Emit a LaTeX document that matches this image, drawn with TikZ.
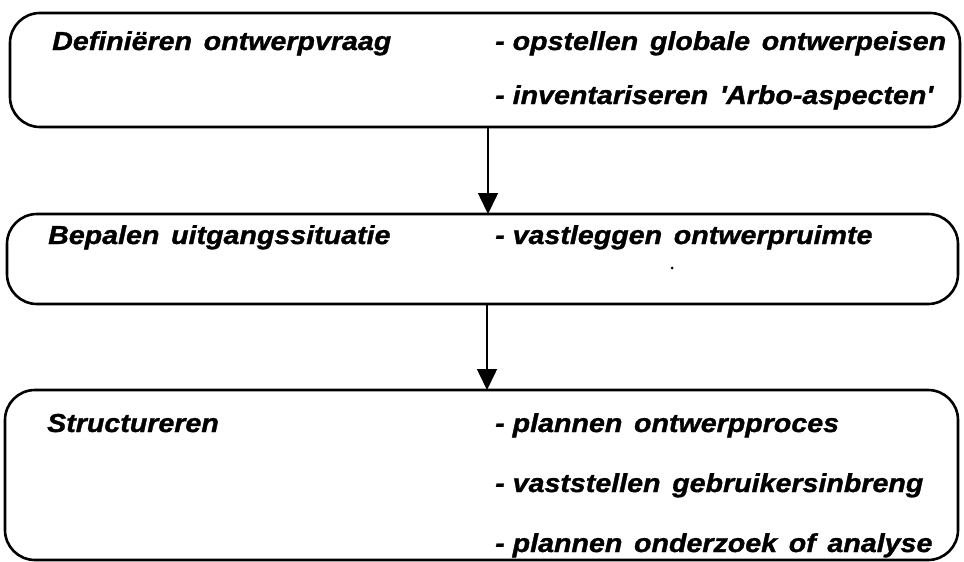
\documentclass[tikz,border=0pt]{standalone}
\usepackage{fontspec}
\setmainfont{Liberation Sans}[FakeStretch=1.1, BoldItalicFeatures={FakeBold=1.2}]
\usetikzlibrary{arrows.meta}
\newcommand{\stagefont}{\fontsize{26}{30}\selectfont\bfseries\itshape\spaceskip=0.45em plus 0.1em\relax}
\newcommand{\itm}{-\kern8pt}
\tikzset{
  stage/.style={draw, line width=2.6pt, rounded corners=30pt},
  lbl/.style={anchor=base west, inner sep=0pt, font=\stagefont},
  flow/.style={line width=1.6pt, -{Triangle[length=21pt,width=20pt]}}
}
\begin{document}
\begin{tikzpicture}[x=1pt,y=-1pt]
\useasboundingbox (0,0) rectangle (964,562);
\fill[white] (0,0) rectangle (964,562);
% the three stages
\draw[stage] (10,13) rectangle (960,127);
\draw[stage] (7,214) rectangle (958,304);
\draw[stage] (5,390) rectangle (958,560);
\coordinate (b1) at (488,127);
\coordinate (t2) at (488,214);
\coordinate (b2) at (487,304);
\coordinate (t3) at (487,390);
\draw[flow] (b1) -- (t2);
\draw[flow] (b2) -- (t3);
% stage 1
\node[lbl] (s1) at (52,50) {Definiëren ontwerpvraag};
\node[lbl] (s1a) at (495,50) {\itm opstellen globale ontwerpeisen};
\node[lbl] (s1b) at (495,104) {\itm inventariseren \textquotesingle Arbo-aspecten\textquotesingle};
% stage 2
\node[lbl] (s2) at (48,244) {Bepalen uitgangssituatie};
\node[lbl] (s2a) at (495,244) {\itm vastleggen ontwerpruimte};
\fill (672,268) circle (1.5pt);
% stage 3
\node[lbl] (s3) at (47,432) {Structureren};
\node[lbl] (s3a) at (495,432) {\itm plannen ontwerpproces};
\node[lbl] (s3b) at (495,492) {\itm vaststellen gebruikersinbreng};
\node[lbl] (s3c) at (495,552) {\itm plannen onderzoek of analyse};
\end{tikzpicture}
\end{document}
